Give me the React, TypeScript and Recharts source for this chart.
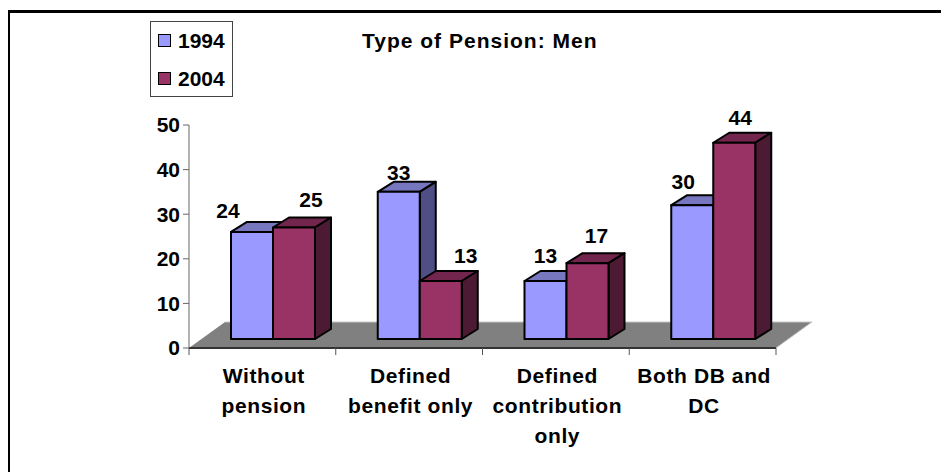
import React from "react";
import { BarChart, Bar, XAxis, YAxis, LabelList, ReferenceArea, Legend } from "recharts";

const categories = ["Without\npension", "Defined\nbenefit only", "Defined\ncontribution\nonly", "Both DB and\nDC"];
const values1994 = [24, 33, 13, 30];
const values2004 = [25, 13, 17, 44];
const yTicks = [0, 10, 20, 30, 40, 50];
const seriesNames = ["1994", "2004"];
const chartTitle = "Type of Pension: Men";

const nudges1994 = [[-24, -21], [0, -19], [0, -26], [-9, -24]];
const nudges2004 = [[17, -28], [25, -26], [9, -28], [6, -25]];

const data = categories.map((name, i) => ({ name, y1994: values1994[i], y2004: values2004[i] }));

const FONT = "'Liberation Sans', Arial, sans-serif";
const FRONT_DX = 11;
const FRONT_DY = -9;
const DEPTH_X = 16;
const DEPTH_Y = 10;
const palette: Record<string, { front: string; top: string; side: string }> = {
  "1994": { front: "#9999FF", top: "#7777BF", side: "#4F4F85" },
  "2004": { front: "#993366", top: "#73264D", side: "#4D1A33" },
};

const Bar3D = (name: string) => (p: any) => {
  const c = palette[name];
  const x = p.x + FRONT_DX;
  const y = p.y + FRONT_DY;
  const w = p.width;
  const h = p.height;
  const line = { stroke: "#000", strokeWidth: 2, strokeLinejoin: "round" as const };
  return (
    <g>
      <polygon points={`${x},${y} ${x + DEPTH_X},${y - DEPTH_Y} ${x + w + DEPTH_X},${y - DEPTH_Y} ${x + w},${y}`} fill={c.top} {...line} />
      <polygon points={`${x + w},${y} ${x + w + DEPTH_X},${y - DEPTH_Y} ${x + w + DEPTH_X},${y + h - DEPTH_Y} ${x + w},${y + h}`} fill={c.side} {...line} />
      <rect x={x} y={y} width={w} height={h} fill={c.front} {...line} />
    </g>
  );
};

const Floor = (p: any) => {
  const { x, y, width, height } = p;
  const dx = 36;
  return (
    <g>
      <polygon points={`${x},${y + height} ${x + width},${y + height} ${x + width + dx},${y} ${x + dx},${y}`} fill="#808080" />
      <polyline points={`${x + dx},${y} ${x + width + dx},${y} ${x + width},${y + height}`} fill="none" stroke="#C8C8C8" strokeWidth={1} />
    </g>
  );
};

const makeLabel = (nudges: number[][]) => (p: any) => {
  const [nx, ny] = nudges[p.index];
  return (
    <text
      x={p.x + p.width / 2 + FRONT_DX + nx}
      y={p.y + FRONT_DY + ny}
      textAnchor="middle"
      dominantBaseline="central"
      fontFamily={FONT}
      fontWeight="bold"
      fontSize={21}
      fill="#000"
    >
      {p.value}
    </text>
  );
};

const CategoryTick = (p: any) => {
  const { x, y, payload, index } = p;
  const half = payload.offset ?? 73.5;
  const lines = String(payload.value).split("\n");
  return (
    <g>
      <line x1={x - half} x2={x - half} y1={y} y2={y + 7} stroke="#555" strokeWidth={1} />
      {index === categories.length - 1 && (
        <line x1={x + half} x2={x + half} y1={y} y2={y + 7} stroke="#555" strokeWidth={1} />
      )}
      {lines.map((t: string, i: number) => (
        <text
          key={i}
          x={x + 1.5}
          y={y + 27 + i * 30}
          textAnchor="middle"
          dominantBaseline="central"
          fontFamily={FONT}
          fontWeight="bold"
          fontSize={21}
          letterSpacing={0.6}
          fill="#000"
        >
          {t}
        </text>
      ))}
    </g>
  );
};

const LegendBox = () => (
  <div
    style={{
      width: 83,
      height: 76,
      boxSizing: "border-box",
      border: "1px solid #444",
      background: "#fff",
      fontFamily: FONT,
      fontWeight: "bold",
      fontSize: 21,
      position: "relative",
    }}
  >
    {seriesNames.map((n, i) => (
      <div key={n} style={{ position: "absolute", left: 0, top: 7 + i * 38, height: 24, width: 80 }}>
        <span
          style={{
            position: "absolute",
            left: 7,
            top: 5,
            width: 11,
            height: 11,
            background: palette[n].front,
            border: "1.5px solid #000",
          }}
        />
        <span style={{ position: "absolute", left: 27, top: 0, lineHeight: "24px", color: "#000" }}>{n}</span>
      </div>
    ))}
  </div>
);

export default function App() {
  return (
    <div style={{ position: "absolute", left: 0, top: 0, width: 941, height: 472, overflow: "hidden", background: "#fff" }}>
      <div style={{ position: "absolute", left: 8, top: 10, right: 0, bottom: 0, borderTop: "3px solid #000", borderLeft: "2px solid #000" }} />
      <div
        style={{
          position: "absolute",
          left: 362,
          top: 28,
          whiteSpace: "nowrap",
          fontFamily: FONT,
          fontWeight: "bold",
          fontSize: 21,
          lineHeight: "26px",
          letterSpacing: 1,
          color: "#000",
        }}
      >
        {chartTitle}
      </div>
      <BarChart
        width={941}
        height={472}
        data={data}
        margin={{ top: 125, right: 165, bottom: 0, left: 0 }}
        barSize={42}
        barGap={0}
        style={{ position: "absolute", left: 0, top: 0 }}
      >
        <ReferenceArea y1={0} y2={5.83} shape={Floor} ifOverflow="visible" />
        <XAxis
          dataKey="name"
          height={124}
          tickLine={false}
          tickSize={0}
          tickMargin={0}
          interval={0}
          tick={CategoryTick}
          axisLine={{ stroke: "#333", strokeWidth: 2 }}
        />
        <YAxis
          width={189}
          domain={[0, 50]}
          ticks={yTicks}
          interval={0}
          tickSize={6}
          tickMargin={3}
          axisLine={{ stroke: "#666", strokeWidth: 1 }}
          tickLine={{ stroke: "#666", strokeWidth: 1 }}
          tick={{ fontFamily: FONT, fontWeight: "bold", fontSize: 21, fill: "#000" }}
        />
        <Bar dataKey="y1994" name="1994" shape={Bar3D("1994")} isAnimationActive={false}>
          <LabelList dataKey="y1994" content={makeLabel(nudges1994)} />
        </Bar>
        <Bar dataKey="y2004" name="2004" shape={Bar3D("2004")} isAnimationActive={false}>
          <LabelList dataKey="y2004" content={makeLabel(nudges2004)} />
        </Bar>
        <Legend content={<LegendBox />} layout="vertical" verticalAlign="middle" align="center" wrapperStyle={{ left: 150, top: 21, width: 83 }} />
      </BarChart>
    </div>
  );
}
